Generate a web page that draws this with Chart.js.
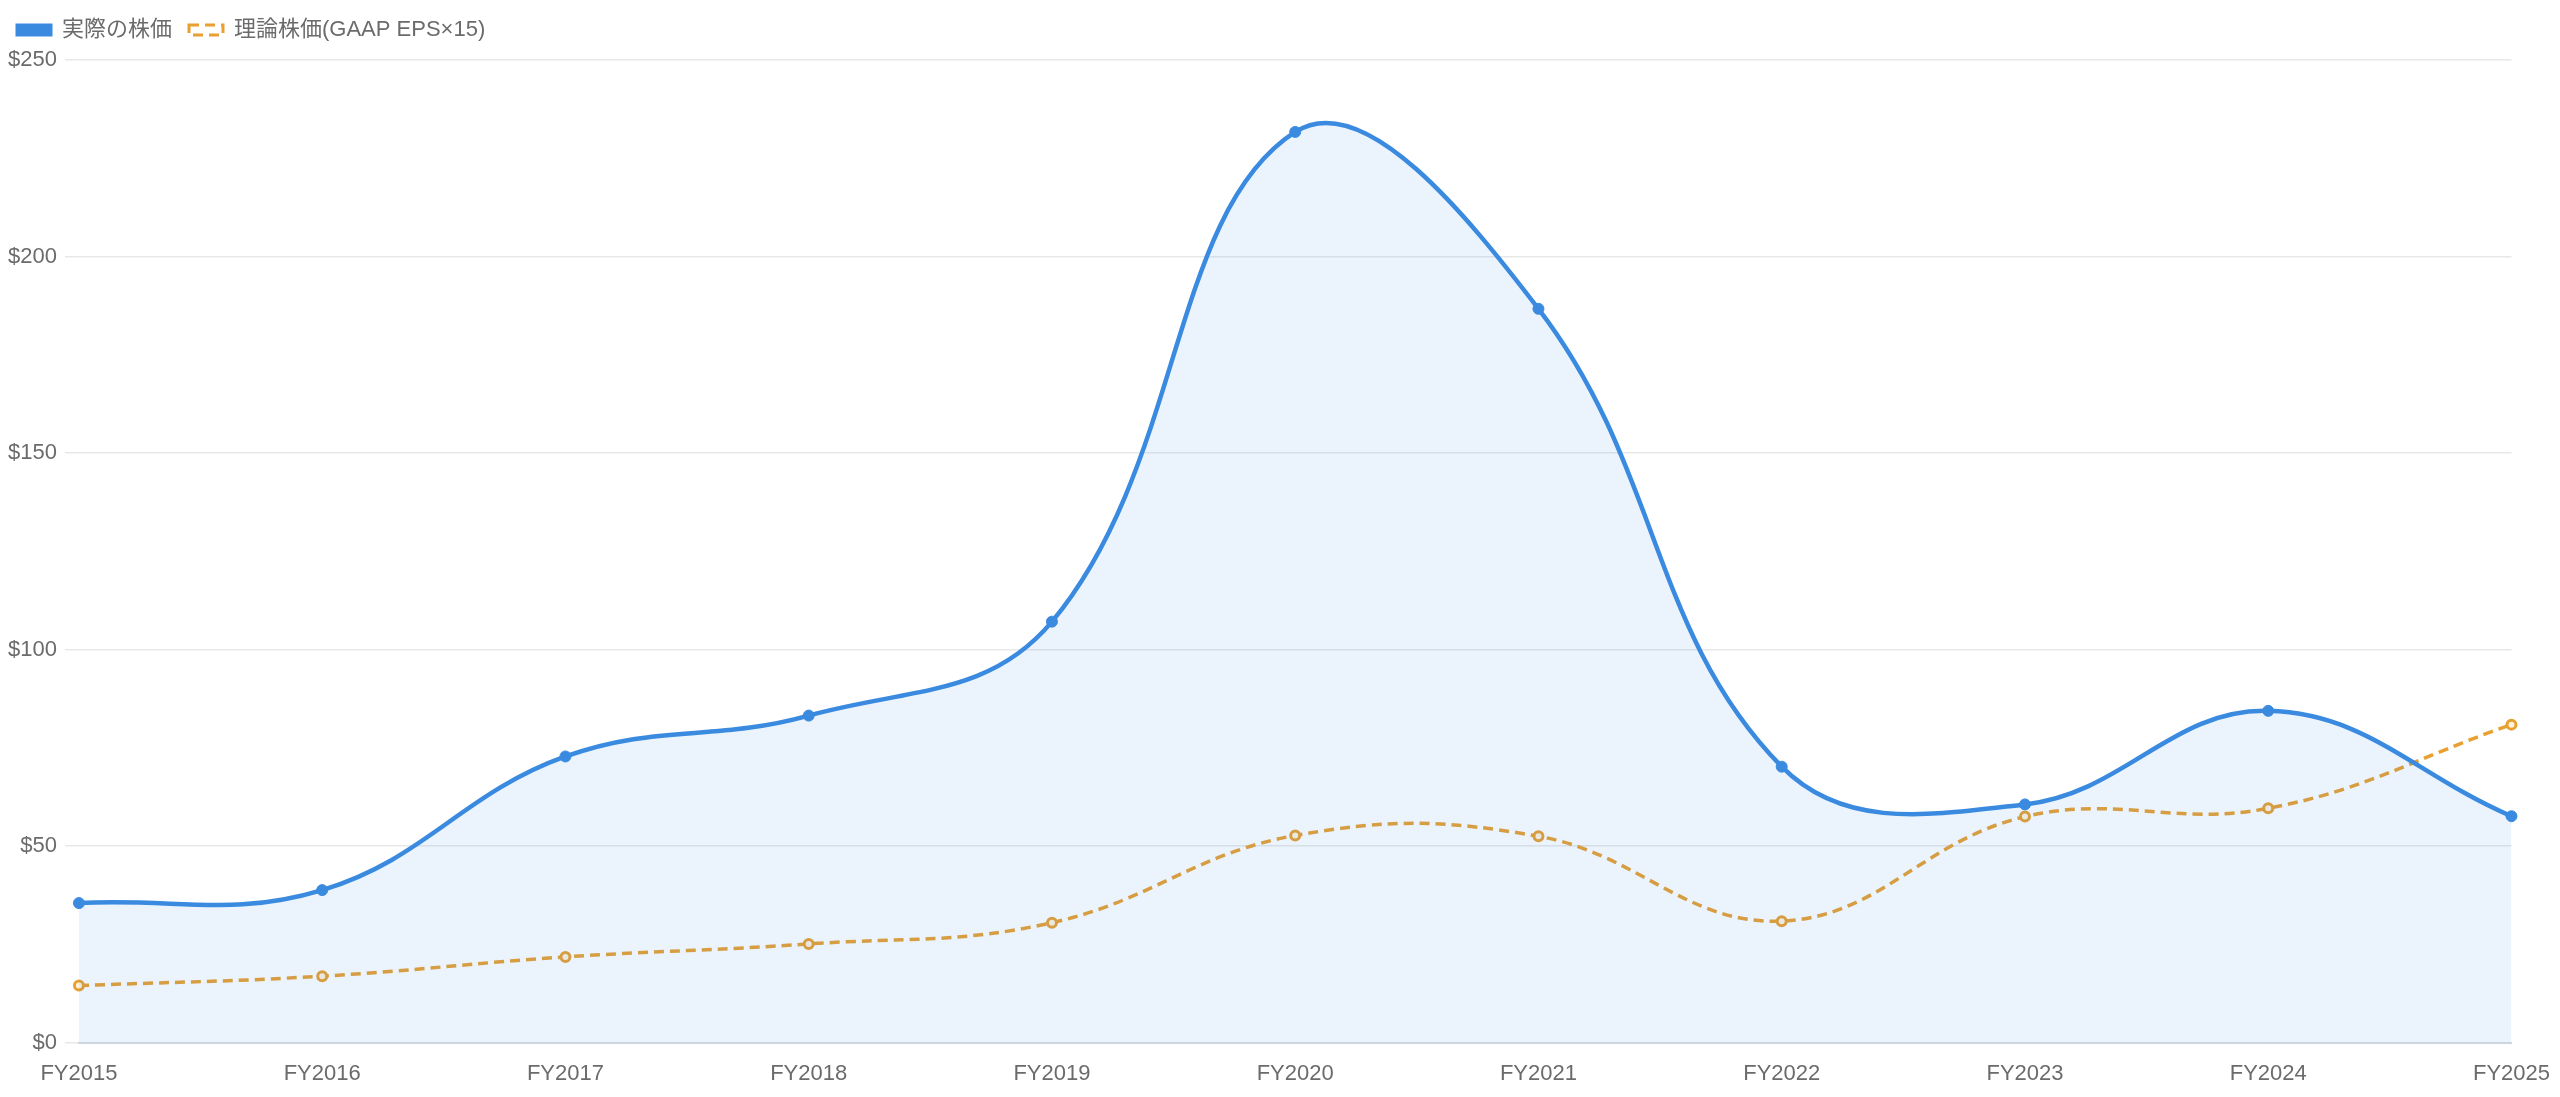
<!DOCTYPE html>
<html>
<head>
<meta charset="utf-8">
<script src="https://cdn.jsdelivr.net/npm/chart.js@4"></script>
<style>
  html, body { margin: 0; padding: 0; background: #fff; }
  #wrap { width: 2560px; height: 1097px; }
</style>
</head>
<body>
<div id="wrap"><canvas id="priceChart"></canvas></div>
<script>
const years = ['FY2015', 'FY2016', 'FY2017', 'FY2018', 'FY2019', 'FY2020', 'FY2021', 'FY2022', 'FY2023', 'FY2024', 'FY2025'];
const actualPrice = [35.5, 38.8, 72.8, 83.2, 107.1, 231.7, 186.7, 70.2, 60.6, 84.4, 57.6];
const theoryPrice = [14.5, 16.9, 21.8, 25.1, 30.5, 52.7, 52.5, 30.9, 57.5, 59.6, 80.9];
const yTicks = [0, 50, 100, 150, 200, 250];

const fontFamily = "'Liberation Sans', 'Noto Sans CJK JP', sans-serif";
Chart.defaults.font.family = fontFamily;
Chart.defaults.font.size = 22;
Chart.defaults.color = '#6b6b6b';

// push the plot area a bit further down below the legend
const legendGap = {
    id: 'legendGap',
    beforeInit(chart) {
        const origFit = chart.legend.fit;
        chart.legend.fit = function () {
            origFit.call(this);
            this.height += 9;
        };
    }
};

const ctx = document.getElementById('priceChart').getContext('2d');

new Chart(ctx, {
    type: 'line',
    data: {
        labels: years,
        datasets: [
            {
                label: '実際の株価',
                data: actualPrice,
                borderColor: '#3a8be0',
                backgroundColor: 'rgba(58, 139, 224, 0.1)',
                borderWidth: 4.5,
                fill: 'origin',
                tension: 0.4,
                pointRadius: 5.5,
                pointBackgroundColor: '#3a8be0',
                pointBorderColor: '#3a8be0',
                pointBorderWidth: 1
            },
            {
                label: '理論株価(GAAP EPS×15)',
                data: theoryPrice,
                borderColor: '#e8a030',
                backgroundColor: 'rgba(0,0,0,0)',
                borderWidth: 3.5,
                borderDash: [10, 6],
                fill: false,
                tension: 0.4,
                pointRadius: 4.5,
                pointBackgroundColor: '#fff3e0',
                pointBorderColor: '#e8a030',
                pointBorderWidth: 3
            }
        ]
    },
    options: {
        responsive: true,
        maintainAspectRatio: false,
        animation: false,
        layout: { padding: { left: 0, right: 0, top: 2, bottom: 0 } },
        plugins: {
            legend: {
                position: 'top',
                align: 'start',
                labels: {
                    boxWidth: 34,
                    boxHeight: 10,
                    padding: 17,
                    color: '#6b6b6b',
                    font: { size: 22 },
                    generateLabels: chart => {
                        const items = Chart.defaults.plugins.legend.labels.generateLabels(chart);
                        items.forEach((item, i) => {
                            if (i === 0) {
                                item.fillStyle = '#3a8be0';
                                item.strokeStyle = '#3a8be0';
                                item.lineWidth = 3;
                            } else {
                                item.fillStyle = 'rgba(255,255,255,0.6)';
                                item.lineWidth = 3;
                            }
                        });
                        return items;
                    }
                }
            },
            tooltip: { enabled: false }
        },
        scales: {
            x: {
                grid: { display: false },
                border: { color: '#cfd6e0', width: 2 },
                ticks: { padding: 10, maxRotation: 0 }
            },
            y: {
                min: 0,
                max: 250,
                afterBuildTicks: axis => { axis.ticks = yTicks.map(v => ({ value: v })); },
                grid: { color: '#e8e8e8', lineWidth: 1.5, drawTicks: true, tickLength: 14 },
                border: { display: false },
                ticks: {
                    padding: 8,
                    callback: v => '$' + v
                }
            }
        }
    },
    plugins: [legendGap]
});
</script>
</body>
</html>
